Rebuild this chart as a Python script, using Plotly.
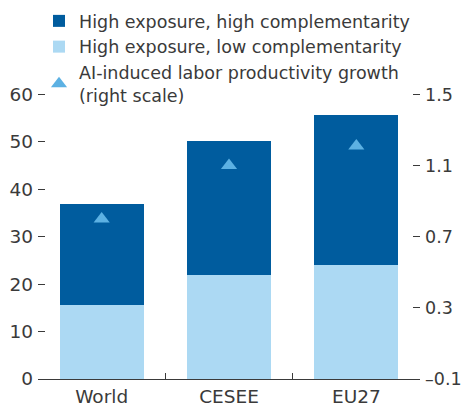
import plotly.graph_objects as go

# Data
regions = ["World", "CESEE", "EU27"]
low_compl = [15.6, 21.9, 24.1]          # high exposure, low complementarity (share, left scale)
high_total = [36.9, 50.2, 55.7]         # total high exposure (left scale)
high_compl = [t - l for t, l in zip(high_total, low_compl)]
productivity = [0.80, 1.10, 1.21]       # AI-induced labor productivity growth (right scale)

left_ticks = [0, 10, 20, 30, 40, 50, 60]
right_ticks = [-0.1, 0.3, 0.7, 1.1, 1.5]
right_labels = [f"{v:.1f}".replace("-", "\u2013") for v in right_ticks]

# left 0..60 maps onto right -0.1..1.5; a hair of headroom keeps the top tick marks
pad = 0.3
left_range = [0, 60 + pad]
right_range = [-0.1, 1.5 + pad * 1.6 / 60]

DARK = "#005c9e"
LIGHT = "#acd9f3"
TRI = "#5cb1e3"
TEXT = "#3a3a3a"
FONT = "DejaVu Sans"

fig = go.Figure()
fig.add_bar(x=regions, y=low_compl, name="High exposure, low complementarity",
            marker=dict(color=LIGHT, line=dict(width=0)), legendrank=2, legendgroup="b")
fig.add_bar(x=regions, y=high_compl, name="High exposure, high complementarity",
            marker=dict(color=DARK, line=dict(width=0)), legendrank=1, legendgroup="a")
fig.add_scatter(x=regions, y=productivity, yaxis="y2", mode="markers",
                name="AI-induced labor productivity growth<br>(right scale)",
                marker=dict(symbol="triangle-up", size=14, color=TRI),
                legendrank=3, legendgroup="c")

fig.update_layout(
    width=466, height=407,
    margin=dict(l=38, r=46, t=93, b=28, autoexpand=False),
    paper_bgcolor="white", plot_bgcolor="white",
    font=dict(family=FONT, size=17, color=TEXT),
    barmode="stack", bargap=0.34,
    showlegend=True,
    legend=dict(x=39 / 466, y=1 - 3 / 407, xref="container", yref="container",
                xanchor="left", yanchor="top",
                bgcolor="rgba(0,0,0,0)", font=dict(size=17.5, color=TEXT),
                tracegroupgap=0, itemwidth=30),
    xaxis=dict(showline=True, linecolor=TEXT, linewidth=1,
               ticks="inside", tickson="boundaries", ticklen=6, tickcolor=TEXT,
               showgrid=False, ticklabelstandoff=1, tickfont=dict(size=18.5)),
    yaxis=dict(range=left_range, tickvals=left_ticks, showgrid=False, zeroline=False,
               ticks="inside", ticklen=7, tickcolor=TEXT, showline=False,
               ticklabelstandoff=4, tickfont=dict(size=18.5)),
    yaxis2=dict(range=right_range, tickvals=right_ticks, ticktext=right_labels,
                overlaying="y", side="right",
                showgrid=False, zeroline=False, ticks="inside", ticklen=7,
                tickcolor=TEXT, showline=False, ticklabelstandoff=4,
                tickfont=dict(size=17.5)),
)

fig.write_html("out.html")
